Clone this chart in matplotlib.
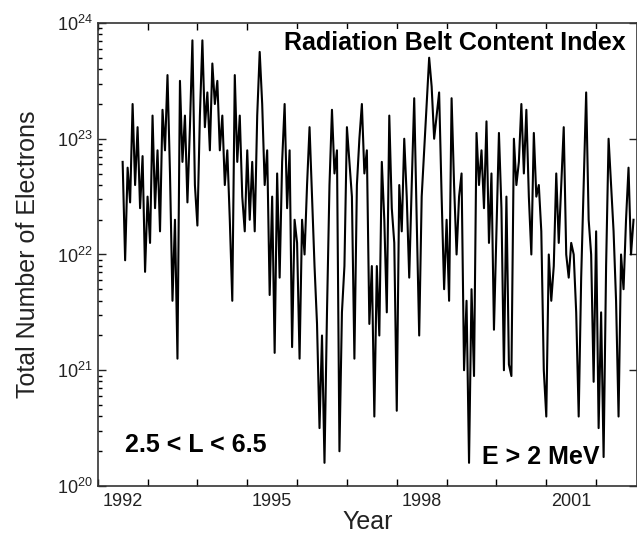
import numpy as np
import matplotlib
matplotlib.use('Agg')
import matplotlib.pyplot as plt
from matplotlib.ticker import LogLocator, NullFormatter

# log10 of total electron count, one value per 1/20 yr
start_year = 1992.5
step = 0.05
log_n = [
    # 1992.5 - 1993
    22.8, 21.95, 22.75, 22.45, 23.3, 22.6, 23.1, 22.4, 22.85, 21.85,
    # 1993
    22.5, 22.1, 23.2, 22.4, 22.9, 22.2, 23.25, 22.9, 23.55, 22.7,
    21.6, 22.3, 21.1, 23.5, 22.8, 23.2, 22.45, 23.1, 23.85, 22.6,
    # 1994
    22.25, 23.2, 23.85, 23.1, 23.4, 22.9, 23.65, 23.3, 23.5, 22.9,
    23.2, 22.6, 22.9, 22.3, 21.6, 23.55, 22.8, 23.2, 22.5, 22.2,
    # 1995
    22.9, 22.3, 22.8, 22.2, 23.2, 23.75, 23.3, 22.6, 22.9, 21.65,
    22.5, 21.15, 22.7, 21.8, 22.8, 23.3, 22.4, 22.9, 21.2, 22.3,
    # 1996
    22.1, 21.1, 22.3, 22.0, 22.6, 23.1, 22.5, 21.9, 21.4, 20.5,
    21.3, 20.2, 21.5, 22.6, 23.25, 22.7, 22.9, 20.3, 21.5, 21.9,
    # 1997
    23.1, 22.8, 22.5, 21.1, 22.6, 23.0, 23.3, 22.7, 22.9, 21.4,
    21.9, 20.6, 21.9, 21.3, 22.8, 22.3, 21.5, 23.2, 22.4, 22.1,
    # 1998
    20.65, 22.6, 22.2, 23.0, 22.5, 21.8, 22.6, 23.35, 22.3, 21.3,
    22.5, 22.9, 23.3, 23.7, 23.45, 23.0, 23.2, 23.4, 22.5, 21.7,
    # 1999
    22.3, 21.6, 23.35, 22.6, 22.0, 22.5, 22.7, 21.0, 21.6, 20.2,
    21.7, 20.95, 23.05, 22.6, 22.9, 22.4, 23.15, 22.1, 22.7, 21.35,
    # 2000
    22.2, 23.05, 22.4, 21.0, 22.5, 21.05, 20.95, 23.0, 22.6, 22.8,
    23.3, 22.7, 23.25, 22.5, 22.0, 23.05, 22.5, 22.6, 22.2, 21.0,
    # 2001
    20.6, 22.0, 21.6, 21.9, 22.7, 22.1, 22.6, 23.1, 22.0, 21.8,
    22.1, 22.0, 21.5, 20.6, 21.8, 22.6, 23.4, 22.3, 22.0, 20.9,
    # 2002
    22.2, 20.5, 21.5, 20.25, 21.9, 23.0, 22.6, 22.2, 21.6, 20.6,
    22.0, 21.7, 22.3, 22.75, 22.0, 22.3,
]
year_labels = ['1992', '1995', '1998', '2001']
label_pos = [1992.5, 1995.5, 1998.5, 2001.5]

years = start_year + step * np.arange(len(log_n))
counts = 10.0 ** np.array(log_n)

plt.rcParams['font.family'] = ['Liberation Sans', 'DejaVu Sans']
plt.rcParams['mathtext.fontset'] = 'custom'
plt.rcParams['mathtext.rm'] = 'Liberation Sans'

fig = plt.figure(figsize=(6.37, 5.41), dpi=100)
ax = fig.add_axes([0.1534, 0.1017, 0.8466, 0.8558])

ax.plot(years, counts, color='black', lw=1.5)

ax.set_yscale('log')
ax.set_ylim(1e20, 1e24)
ax.set_xlim(1992, 2002.82)

ax.set_xticks(np.arange(1992, 2003))
ax.set_xticklabels([])
ax.set_xticks(label_pos, year_labels, minor=True)
ax.tick_params(axis='x', which='major', direction='in', length=5, width=1, top=True)
ax.tick_params(axis='x', which='minor', length=0, labelsize=13, pad=5, colors='#222222')

ax.yaxis.set_major_locator(LogLocator(base=10, numticks=10))
ax.yaxis.set_minor_locator(LogLocator(base=10, subs=np.arange(2, 10), numticks=20))
ax.yaxis.set_minor_formatter(NullFormatter())
ax.tick_params(axis='y', which='major', direction='in', length=6, width=1, right=True,
               labelsize=13, colors='#222222')
ax.tick_params(axis='y', which='minor', direction='in', length=3, width=1)

for s in ax.spines.values():
    s.set_linewidth(1.2)
    s.set_color('#333333')

ax.set_xlabel('Year', fontsize=18, labelpad=0, color='#222222')
ax.set_ylabel('Total Number of Electrons', fontsize=18, labelpad=12, color='#222222')

ax.text(0.978, 0.957, 'Radiation Belt Content Index', transform=ax.transAxes,
        ha='right', va='center', fontsize=18, fontweight='bold', zorder=5,
        bbox=dict(facecolor='white', edgecolor='none', pad=1))
ax.text(0.05, 0.089, '2.5 < L < 6.5', transform=ax.transAxes,
        ha='left', va='center', fontsize=18, fontweight='bold', zorder=5,
        bbox=dict(facecolor='white', edgecolor='none', pad=1))
ax.text(0.712, 0.063, 'E > 2 MeV', transform=ax.transAxes,
        ha='left', va='center', fontsize=18, fontweight='bold', zorder=5,
        bbox=dict(facecolor='white', edgecolor='none', pad=1))

fig.savefig('out.png', dpi=100)
